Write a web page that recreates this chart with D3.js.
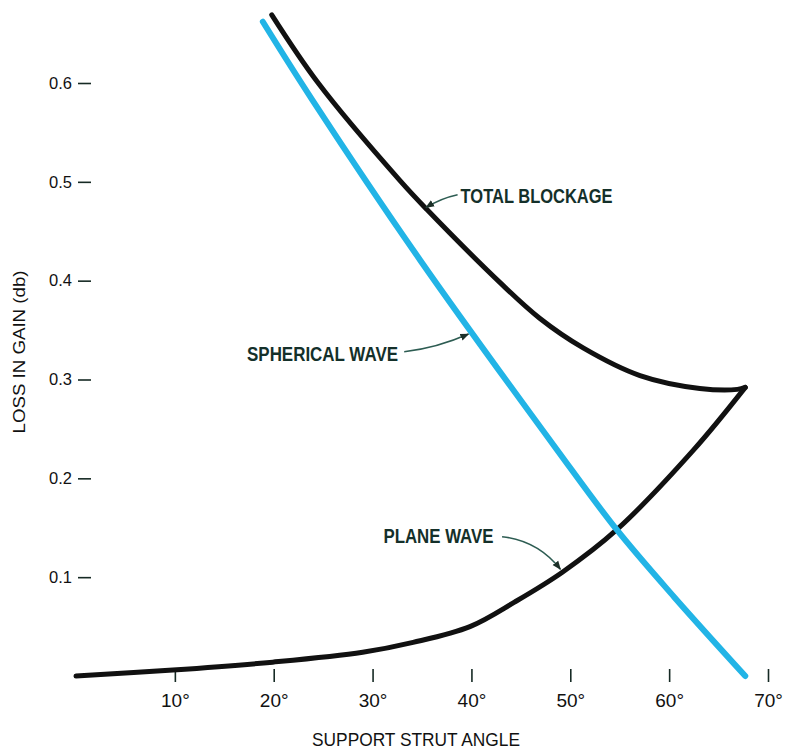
<!DOCTYPE html>
<html>
<head>
<meta charset="utf-8">
<script src="https://cdn.jsdelivr.net/npm/d3@7"></script>
<style>
  html, body { margin: 0; padding: 0; background: #fff; }
  svg { display: block; }
  text { font-family: "Liberation Sans", Arial, sans-serif; }
</style>
</head>
<body>
<svg id="chart" width="785" height="751"></svg>
<script>
// ---- data ----
const xTicks = [10, 20, 30, 40, 50, 60, 70];
const yTicks = [0.1, 0.2, 0.3, 0.4, 0.5, 0.6];

const sphericalAngle = [18.9, 23.9, 34.8, 48.65, 54.7, 60.5, 67.7];
const sphericalLoss  = [0.662, 0.583, 0.421, 0.229, 0.148, 0.080, 0.0];

const totalAngle = [19.8, 24.5, 32.8, 35.5, 42.9, 46.9, 51.3, 57.05, 63.1, 66.9, 67.7];
const totalLoss  = [0.669, 0.600, 0.501, 0.472, 0.398, 0.362, 0.332, 0.304, 0.291, 0.290, 0.292];

const planeAngle = [0, 9.8, 19.9, 29.0, 34.1, 39.85, 44.4, 49.2, 54.7, 62.5, 67.7];
const planeLoss  = [0.0, 0.006, 0.014, 0.024, 0.034, 0.050, 0.075, 0.105, 0.148, 0.229, 0.292];

const xTitle = "SUPPORT STRUT ANGLE";
const yTitle = "LOSS IN GAIN (db)";

// annotations: label, text anchor (data units), arrow start, arrow tip, bend
const annotations = [
  { text: "TOTAL BLOCKAGE", tx: 38.9, ty: 0.479, len: 152, ax: 38.6, ay: 0.487, bx: 35.4, by: 0.474, bend: 3 },
  { text: "SPHERICAL WAVE", tx: 17.3, ty: 0.319, len: 151, ax: 33.2, ay: 0.328, bx: 39.7, by: 0.346, bend: 5 },
  { text: "PLANE WAVE",     tx: 31.1, ty: 0.1346, len: 110, ax: 43.1, ay: 0.141, bx: 49.0, by: 0.108, bend: -14 }
];

// ---- drawing ----
const svg = d3.select("#chart");
const x = d3.scaleLinear().domain([0, 70]).range([76, 768]);
const y = d3.scaleLinear().domain([0, 0.6]).range([676, 83]);
const ink = "#162a24";

// y axis: dash to the right of each label
const yAxis = svg.append("g")
  .attr("transform", `translate(${91},0)`)
  .call(d3.axisLeft(y).tickValues(yTicks).tickSize(13).tickPadding(6).tickFormat(d3.format(".1f")));
yAxis.select(".domain").remove();
yAxis.selectAll("line").attr("stroke", ink).attr("stroke-width", 1.6);
yAxis.selectAll("text").attr("fill", "#111").attr("font-size", 16.5);

// x axis: short vertical ticks with labels below
const xAxis = svg.append("g")
  .attr("transform", `translate(0,${669})`)
  .call(d3.axisBottom(x).tickValues(xTicks).tickSize(13).tickPadding(12).tickFormat(d => d + "°"));
xAxis.select(".domain").remove();
xAxis.selectAll("line").attr("stroke", ink).attr("stroke-width", 1.6);
xAxis.selectAll("text").attr("fill", "#111").attr("font-size", 19);

// axis titles
svg.append("text")
  .attr("x", 416).attr("y", 746)
  .attr("text-anchor", "middle")
  .attr("font-size", 17.5)
  .attr("textLength", 208).attr("lengthAdjust", "spacingAndGlyphs")
  .attr("fill", "#111")
  .text(xTitle);

svg.append("text")
  .attr("transform", `translate(25,${352}) rotate(-90)`)
  .attr("text-anchor", "middle")
  .attr("font-size", 17)
  .attr("textLength", 163).attr("lengthAdjust", "spacingAndGlyphs")
  .attr("fill", "#111")
  .text(yTitle);

// lines
const line = d3.line().x(d => x(d[0])).y(d => y(d[1])).curve(d3.curveCatmullRom.alpha(0.5));
const zip = (a, b) => a.map((v, i) => [v, b[i]]);

svg.append("path")
  .attr("d", line(zip(planeAngle, planeLoss)))
  .attr("fill", "none").attr("stroke", "#111").attr("stroke-width", 5)
  .attr("stroke-linecap", "round").attr("stroke-linejoin", "round");

svg.append("path")
  .attr("d", line(zip(totalAngle, totalLoss)))
  .attr("fill", "none").attr("stroke", "#111").attr("stroke-width", 5)
  .attr("stroke-linecap", "round").attr("stroke-linejoin", "round");

svg.append("path")
  .attr("d", line(zip(sphericalAngle, sphericalLoss)))
  .attr("fill", "none").attr("stroke", "#22b4e6").attr("stroke-width", 6)
  .attr("stroke-linecap", "round");

// arrowhead marker
svg.append("defs").append("marker")
  .attr("id", "ah").attr("viewBox", "0 0 10 10")
  .attr("refX", 9).attr("refY", 5)
  .attr("markerWidth", 9).attr("markerHeight", 9)
  .attr("markerUnits", "userSpaceOnUse")
  .attr("orient", "auto")
  .append("path").attr("d", "M0,1 L10,5 L0,9 Z").attr("fill", "#1c2f28");

// annotations
annotations.forEach(a => {
  svg.append("text")
    .attr("x", x(a.tx)).attr("y", y(a.ty))
    .attr("font-size", 20).attr("font-weight", "bold")
    .attr("textLength", a.len).attr("lengthAdjust", "spacingAndGlyphs")
    .attr("fill", "#14302a")
    .text(a.text);
  const x0 = x(a.ax), y0 = y(a.ay), x1 = x(a.bx), y1 = y(a.by);
  const mx = (x0 + x1) / 2, my = (y0 + y1) / 2;
  const dx = x1 - x0, dy = y1 - y0, L = Math.hypot(dx, dy);
  const cx = mx + (-dy / L) * a.bend, cy = my + (dx / L) * a.bend;
  svg.append("path")
    .attr("d", `M${x0},${y0} Q${cx},${cy} ${x1},${y1}`)
    .attr("fill", "none").attr("stroke", "#2d5c52").attr("stroke-width", 1.5)
    .attr("marker-end", "url(#ah)");
});
</script>
</body>
</html>
